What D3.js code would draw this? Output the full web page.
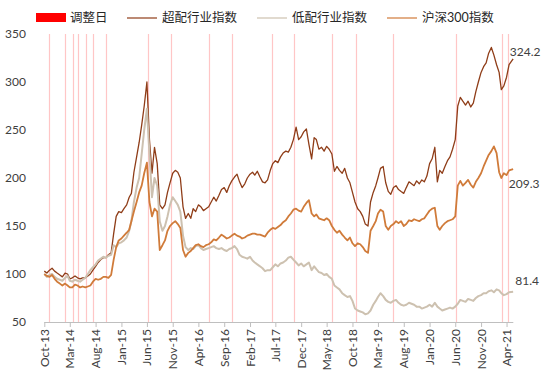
<!DOCTYPE html>
<html lang="zh">
<head>
<meta charset="UTF-8">
<title>超配/低配行业指数</title>
<style>
    body { margin: 0; background: #fff; }
    svg { display: block; }
    text { font-family: Lato, "Noto Sans CJK SC", sans-serif; fill: #404040; }
    .legend text { font-size: 12.5px; fill: #262626; }
    .axis text { font-size: 12px; }
</style>
</head>
<body>
<svg class="chart"></svg>
<script src="https://cdnjs.cloudflare.com/ajax/libs/d3/7.8.5/d3.min.js"></script>
<script>

// half-monthly readings (1st and 16th of each month), Oct 2013 .. Apr 2021, then the last close
const over = [
    103, 101, 104, 106, 103, 101, 99, 97, 101, 100, 95, 96, 98, 96, 95, 96, 96, 98, 100, 104, 108, 112, 115, 117,
    117, 120, 122, 142, 160, 165, 164, 168, 172, 180, 184, 206, 222, 237, 255, 275, 300, 240, 205, 232, 215, 172, 168, 172,
    185, 195, 205, 208, 206, 200, 170, 158, 163, 158, 168, 165, 172, 170, 166, 168, 170, 175, 180, 176, 182, 188, 190, 185,
    192, 197, 201, 204, 196, 190, 194, 200, 204, 206, 203, 207, 201, 196, 195, 198, 208, 215, 218, 216, 222, 226, 228, 227,
    232, 240, 253, 240, 243, 248, 251, 235, 220, 242, 240, 230, 232, 228, 233, 230, 225, 207, 212, 208, 205, 210, 200, 195,
    185, 175, 168, 165, 160, 152, 150, 175, 185, 192, 200, 210, 212, 195, 186, 183, 190, 192, 188, 186, 184, 190, 196, 194,
    192, 197, 194, 198, 196, 202, 215, 220, 232, 196, 208, 205, 212, 218, 222, 230, 240, 275, 284, 280, 276, 280, 274, 278,
    290, 300, 310, 316, 320, 330, 336, 328, 318, 310, 292, 296, 305, 318, 324.2
];

const under = [
    100, 97, 99, 100, 97, 95, 94, 93, 96, 98, 93, 92, 94, 93, 92, 94, 96, 100, 104, 107, 110, 114, 116, 118,
    117, 119, 120, 130, 128, 132, 133, 135, 138, 145, 155, 175, 190, 200, 225, 250, 272, 225, 180, 200, 192, 155, 145, 150,
    160, 172, 180, 176, 172, 165, 140, 128, 125, 127, 126, 129, 130, 127, 125, 126, 127, 128, 129, 127, 126, 127, 125, 124,
    126, 127, 129, 126, 120, 118, 117, 116, 118, 114, 112, 110, 108, 106, 103, 104, 104, 107, 110, 108, 111, 112, 114, 117,
    118, 115, 112, 109, 111, 108, 110, 112, 104, 108, 105, 102, 101, 99, 100, 97, 95, 88, 86, 84, 80, 78, 76, 77,
    72, 64, 62, 61, 60, 58, 59, 62, 68, 72, 76, 80, 77, 73, 71, 70, 72, 73, 70, 68, 67, 68, 70, 69,
    68, 66, 66, 64, 65, 66, 68, 66, 70, 66, 64, 62, 63, 64, 65, 64, 66, 69, 73, 72, 71, 74, 73, 72,
    75, 77, 78, 80, 80, 82, 83, 81, 84, 83, 80, 78, 79, 81, 81.4
];

const hs300 = [
    100, 98, 97, 99, 95, 92, 90, 88, 90, 88, 86, 86, 89, 88, 86, 87, 86, 87, 88, 92, 95, 94, 95, 97,
    97, 96, 99, 115, 128, 135, 137, 140, 143, 146, 155, 165, 175, 185, 192, 205, 216, 175, 160, 168, 165, 125, 130, 135,
    145, 150, 153, 155, 152, 148, 125, 118, 122, 124, 127, 130, 131, 129, 128, 130, 131, 133, 136, 135, 138, 141, 139, 137,
    138, 140, 142, 140, 139, 137, 138, 140, 141, 142, 142, 141, 141, 140, 139, 143, 146, 148, 147, 149, 151, 154, 156, 160,
    163, 167, 168, 166, 165, 170, 174, 177, 163, 160, 162, 158, 157, 156, 158, 156, 150, 146, 143, 145, 141, 138, 135, 138,
    132, 129, 132, 131, 128, 124, 122, 145, 150, 155, 163, 167, 165, 150, 146, 150, 152, 155, 153, 155, 150, 152, 156, 155,
    157, 156, 155, 157, 158, 162, 166, 168, 169, 150, 146, 150, 153, 155, 156, 157, 160, 192, 197, 192, 195, 198, 193, 190,
    196, 200, 205, 212, 218, 224, 228, 233, 226, 206, 200, 205, 203, 208, 209.3
];

const lastDate = "2021-05-10";

// 调整日
const adjustDates = [
    "2013-10-29", "2014-02-02", "2014-03-18", "2014-04-20", "2014-06-05", "2014-07-15", "2014-10-03",
    "2015-06-06", "2015-10-20", "2016-06-01", "2016-10-19", "2017-06-13", "2017-10-20", "2018-06-04",
    "2018-10-24", "2019-05-28", "2020-06-07", "2021-03-07", "2021-04-12"
];

const tickLabels = ["Oct-13", "Mar-14", "Aug-14", "Jan-15", "Jun-15", "Nov-15", "Apr-16", "Sep-16", "Feb-17", "Jul-17",
    "Dec-17", "May-18", "Oct-18", "Mar-19", "Aug-19", "Jan-20", "Jun-20", "Nov-20", "Apr-21"];

const yTicks = [50, 100, 150, 200, 250, 300, 350];

const series = [
    { name: "超配行业指数", values: over, color: "#8f3d18", width: 1.3, labelDx: 12, labelDy: -7 },
    { name: "低配行业指数", values: under, color: "#cdc1b0", width: 2, labelDx: 14, labelDy: -11 },
    { name: "沪深300指数", values: hs300, color: "#d07b3a", width: 1.8, labelDx: 11, labelDy: 15 }
];

const width = 550, height = 383;
const parse = d3.timeParse("%Y-%m-%d");

const dates = d3.range(over.length - 1)
    .map(i => new Date(2013, 9 + Math.floor(i / 2), i % 2 ? 16 : 1));
dates.push(parse(lastDate));

const svg = d3.select("svg")
    .attr("width", width)
    .attr("height", height);

const x = d3.scaleTime()
    .domain([new Date(2013, 9, 1), new Date(2021, 4, 11)])
    .range([44.3, 513.3]);

const y = d3.scaleLinear()
    .domain([50, 350])
    .range([322, 34]);

// adjustment day lines
svg.append("g")
    .selectAll("line")
    .data(adjustDates.map(parse))
    .join("line")
    .attr("x1", d => Math.round(x(d)) + 0.5)
    .attr("x2", d => Math.round(x(d)) + 0.5)
    .attr("y1", y(350))
    .attr("y2", y(50))
    .attr("stroke", "#ffc6c6")
    .attr("stroke-width", 1.2);

// y labels, no axis line
const yAxis = svg.append("g").attr("class", "axis");
yAxis.selectAll("text")
    .data(yTicks)
    .join("text")
    .attr("x", 26)
    .attr("y", d => y(d))
    .attr("dy", "0.35em")
    .attr("text-anchor", "end")
    .text(d => d);

// x axis
const tickDates = tickLabels.map(d3.timeParse("%b-%y"));
const xAxis = svg.append("g")
    .attr("class", "axis")
    .attr("transform", `translate(0,${y(50)})`)
    .call(d3.axisBottom(x).tickValues(tickDates).tickSize(5).tickFormat(d3.timeFormat("%b-%y")));

xAxis.select(".domain")
    .attr("stroke", "#bfbfbf")
    .attr("d", `M${x.range()[0]},0.5H${x.range()[1]}`);
xAxis.selectAll(".tick line").attr("stroke", "#bfbfbf");
xAxis.selectAll(".tick text")
    .attr("y", 0)
    .attr("dy", 0)
    .attr("text-anchor", "end")
    .attr("transform", "translate(4,7) rotate(-90)");

// lines
const line = d3.line()
    .x((d, i) => x(dates[i]))
    .y(d => y(d));

svg.append("g")
    .selectAll("path")
    .data(series)
    .join("path")
    .attr("fill", "none")
    .attr("stroke", d => d.color)
    .attr("stroke-width", d => d.width)
    .attr("stroke-linejoin", "round")
    .attr("d", d => line(d.values));

// end labels
svg.append("g")
    .attr("class", "axis")
    .selectAll("text")
    .data(series)
    .join("text")
    .attr("x", d => x(dates[dates.length - 1]) + d.labelDx)
    .attr("y", d => y(d.values[d.values.length - 1]) + d.labelDy)
    .attr("dy", "0.35em")
    .attr("text-anchor", "middle")
    .text(d => d3.format(".1f")(d.values[d.values.length - 1]));

// legend
const legend = svg.append("g").attr("class", "legend");

legend.append("rect")
    .attr("x", 36)
    .attr("y", 13)
    .attr("width", 30)
    .attr("height", 9)
    .attr("fill", "#ff0000");
legend.append("text")
    .attr("x", 70)
    .attr("y", 18)
    .attr("dy", "0.35em")
    .text("调整日");

const items = legend.selectAll("g.item")
    .data(series)
    .join("g")
    .attr("class", "item")
    .attr("transform", (d, i) => `translate(${127 + i * 130},18)`);

items.append("line")
    .attr("x1", 0)
    .attr("x2", 30)
    .attr("stroke", d => d.color)
    .attr("stroke-width", 1.2);

items.append("text")
    .attr("x", 35)
    .attr("dy", "0.35em")
    .text(d => d.name);

</script>
</body>
</html>
